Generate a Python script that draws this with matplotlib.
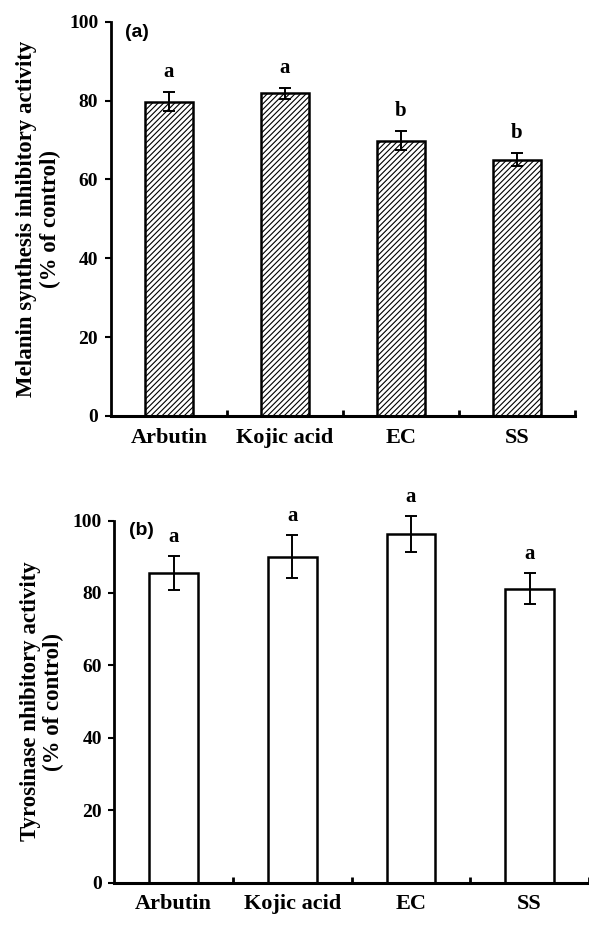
import numpy as np
import matplotlib
matplotlib.use('Agg')
import matplotlib.pyplot as plt

categories = ['Arbutin', 'Kojic acid', 'EC', 'SS']

# panel (a): melanin synthesis inhibitory activity
mel_vals = [79.7, 81.8, 69.8, 65.0]
mel_err = [2.4, 1.3, 2.4, 1.7]
mel_sig = ['a', 'a', 'b', 'b']

# panel (b): tyrosinase inhibitory activity
tyr_vals = [85.5, 90.0, 96.2, 81.2]
tyr_err = [4.7, 6.0, 5.0, 4.2]
tyr_sig = ['a', 'a', 'a', 'a']

plt.rcParams['font.family'] = ['Liberation Serif', 'DejaVu Serif']
plt.rcParams['font.weight'] = 'bold'
plt.rcParams['hatch.linewidth'] = 0.8

fig = plt.figure(figsize=(5.89, 9.43), dpi=100)
ax1 = fig.add_axes([0.188, 0.559, 0.788, 0.418])
ax2 = fig.add_axes([0.194, 0.064, 0.806, 0.384])

def draw_panel(ax, vals, err, sig, hatch, ylabel, tag, xmax):
    x = np.arange(len(vals)) + 0.5
    ax.bar(x, vals, width=0.41, color='white', edgecolor='black',
           linewidth=1.8, hatch=hatch, zorder=2)
    eb = ax.errorbar(x, vals, yerr=err, fmt='none', ecolor='black',
                     elinewidth=1.4, capsize=4, capthick=1.4, zorder=3)
    for art in eb.lines[1] + eb.lines[2]:
        art.set_clip_on(False)
    for xi, v, e, s in zip(x, vals, err, sig):
        ax.text(xi, v + e + 2.5, s, ha='center', va='bottom',
                fontsize=15, fontweight='bold', clip_on=False)
    ax.set_xlim(0, xmax)
    ax.set_ylim(0, 100)
    ax.set_yticks([0, 20, 40, 60, 80, 100])
    ax.set_yticklabels(['0', '20', '40', '60', '80', '100'],
                       fontsize=14, fontweight='bold')
    ax.set_xticks([1, 2, 3, 4])
    ax.set_xticklabels([])
    ax.tick_params(axis='x', direction='in', length=4, width=2)
    ax.tick_params(axis='y', direction='out', length=4, width=1.5, pad=5)
    for xi, c in zip(x, categories):
        ax.text(xi, -3, c, ha='center', va='top', fontsize=16,
                fontweight='bold', transform=ax.transData, clip_on=False)
    ax.spines['top'].set_visible(False)
    ax.spines['right'].set_visible(False)
    ax.spines['left'].set_linewidth(2)
    ax.spines['bottom'].set_linewidth(2.2)
    ax.set_ylabel(ylabel, fontsize=16.5, fontweight='bold', labelpad=6,
                  linespacing=1.15)
    ax.text(0.03, 0.995, tag, transform=ax.transAxes, ha='left', va='top',
            fontsize=14, fontweight='bold', family='Liberation Sans')

draw_panel(ax1, mel_vals, mel_err, mel_sig, '//////',
           'Melanin synthesis inhibitory activity\n(% of control)', '(a)', 3.95)
draw_panel(ax2, tyr_vals, tyr_err, tyr_sig, None,
           'Tyrosinase nhibitory activity\n(% of control)', '(b)', 3.93)

fig.savefig('out.png', dpi=100)
